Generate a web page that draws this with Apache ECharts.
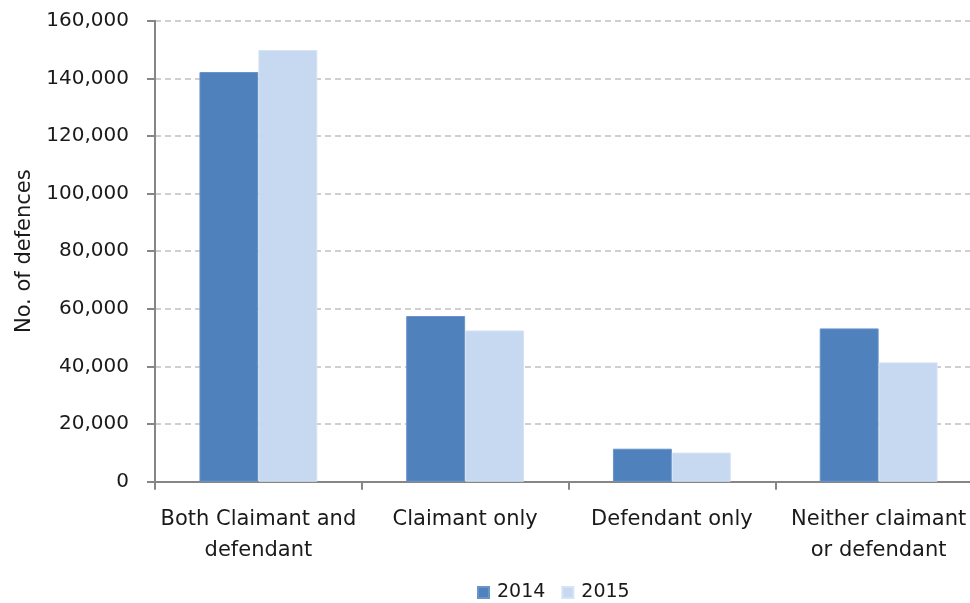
<!DOCTYPE html>
<html>
<head>
<meta charset="utf-8">
<script src="https://cdn.jsdelivr.net/npm/echarts@6/dist/echarts.min.js"></script>
<style>html,body{margin:0;padding:0;background:#fff;}#c{width:970px;height:603px;}</style>
</head>
<body>
<div id="c"></div>
<script>
const categories = ['Both Claimant and\ndefendant', 'Claimant only', 'Defendant only', 'Neither claimant\nor defendant'];
const seriesNames = ['2014', '2015'];
const values2014 = [142200, 57500, 11450, 53200];
const values2015 = [149800, 52500, 10100, 41400];
const yTicks = { min: 0, max: 160000, interval: 20000 };

const FONT = 'DejaVu Sans';
const chart = echarts.init(document.getElementById('c'));
chart.setOption({
  animation: false,
  textStyle: { fontFamily: FONT },
  grid: { left: 155, top: 20.7, bottom: 121.3, width: 827, containLabel: false, outerBoundsMode: 'none' },
  legend: {
    data: seriesNames,
    bottom: 1,
    left: 477,
    padding: 0,
    itemWidth: 11, itemHeight: 11, itemGap: 16,
    icon: 'rect',
    textStyle: { fontFamily: FONT, fontSize: 19, color: '#1a1a1a', padding: [0, 0, 0, 3] }
  },
  xAxis: {
    type: 'category',
    data: categories,
    axisLine: { lineStyle: { color: '#868686', width: 2 } },
    axisTick: { show: true, length: 8, lineStyle: { color: '#868686', width: 2 } },
    axisLabel: { fontFamily: FONT, fontSize: 21, color: '#1a1a1a', lineHeight: 31, margin: 22, interval: 0 }
  },
  yAxis: {
    type: 'value',
    min: yTicks.min, max: yTicks.max, interval: yTicks.interval,
    name: 'No. of defences',
    nameLocation: 'middle',
    nameGap: 120,
    nameRotate: 90,
    nameTextStyle: { fontFamily: FONT, fontSize: 21, color: '#1a1a1a' },
    axisLine: { show: true, lineStyle: { color: '#868686', width: 2 } },
    axisTick: { show: true, length: 8, lineStyle: { color: '#868686', width: 2 } },
    axisLabel: {
      fontFamily: FONT, fontSize: 20, color: '#1a1a1a', margin: 26,
      formatter: v => v.toLocaleString('en-US')
    },
    splitLine: { show: true, lineStyle: { color: '#C0C0C0', type: [6, 4], width: 1.5 } }
  },
  series: [
    { name: seriesNames[0], type: 'bar', data: values2014, barGap: '0%', barCategoryGap: '43%',
      itemStyle: { color: '#4F81BD', borderColor: '#6a94c8', borderWidth: 1 } },
    { name: seriesNames[1], type: 'bar', data: values2015, barGap: '0%', barCategoryGap: '43%',
      itemStyle: { color: '#C6D9F1', borderColor: '#d6e3f5', borderWidth: 1 } }
  ]
});
</script>
</body>
</html>
